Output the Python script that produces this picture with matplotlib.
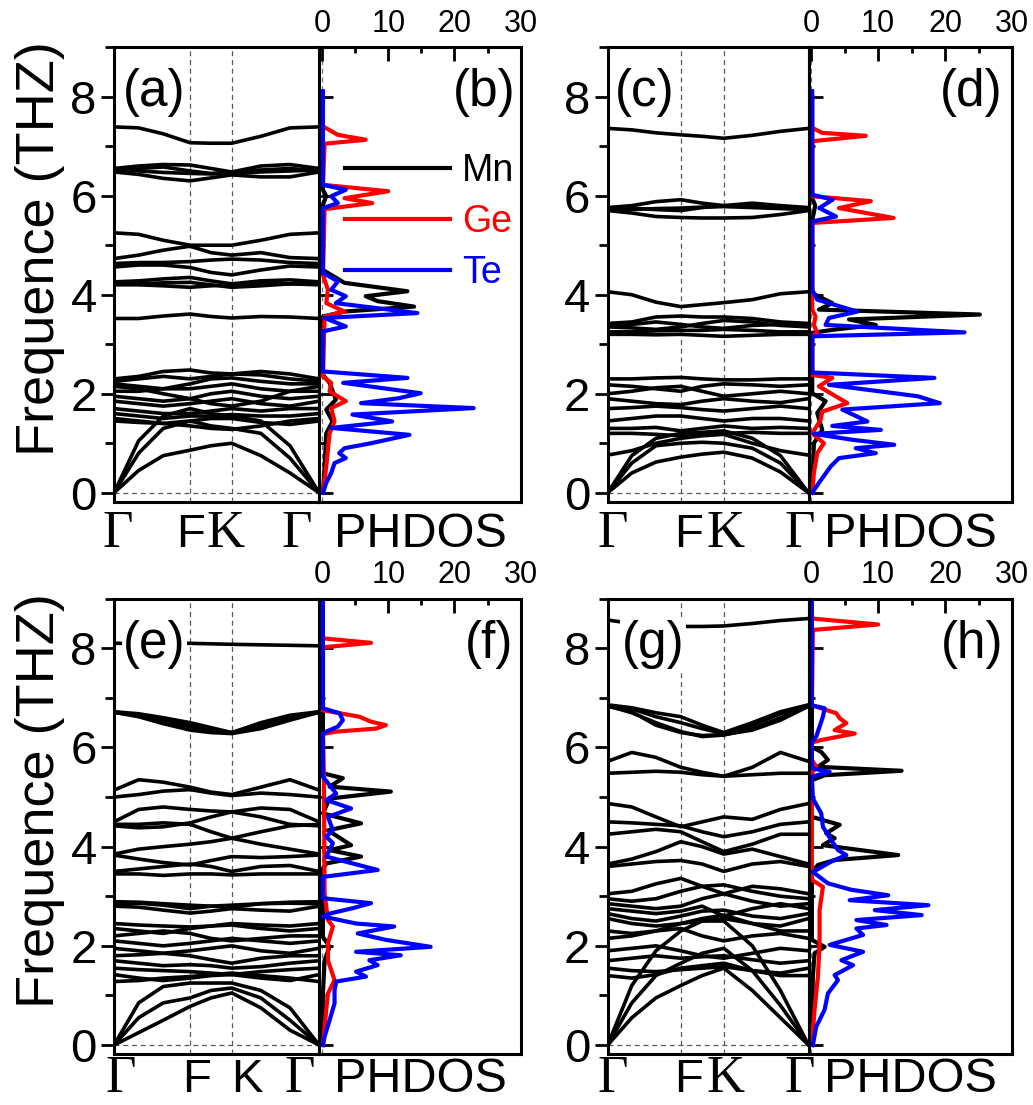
import matplotlib.pyplot as plt
from matplotlib.ticker import MultipleLocator

plt.rcParams['font.family'] = ['Liberation Sans', 'DejaVu Sans']

# --- k-path sample positions (fraction of path G-F-K-G) ---
KPTS_AE = [0, 0.12, 0.24, 0.371, 0.473, 0.574, 0.716, 0.858, 1.0]
KPTS_CG = [0, 0.12, 0.24, 0.364, 0.47, 0.578, 0.72, 0.86, 1.0]
KF_AE, KK_AE = 0.371, 0.574
KF_CG, KK_CG = 0.364, 0.578

# --- phonon bands (THz) read at the k points ---
BANDS_A = [
    [7.39, 7.37, 7.25, 7.07, 7.06, 7.06, 7.2, 7.37, 7.39],
    [6.55, 6.6, 6.63, 6.62, 6.55, 6.48, 6.6, 6.63, 6.55],
    [6.52, 6.5, 6.47, 6.45, 6.44, 6.45, 6.48, 6.5, 6.52],
    [6.48, 6.43, 6.35, 6.3, 6.36, 6.42, 6.38, 6.38, 6.48],
    [6.5, 6.55, 6.58, 6.5, 6.45, 6.48, 6.52, 6.55, 6.5],
    [5.25, 5.22, 5.1, 5.0, 5.0, 5.0, 5.1, 5.22, 5.25],
    [4.73, 4.8, 4.9, 4.98, 4.85, 4.8, 4.85, 4.75, 4.73],
    [4.63, 4.65, 4.65, 4.67, 4.7, 4.72, 4.7, 4.65, 4.63],
    [4.56, 4.6, 4.6, 4.55, 4.45, 4.4, 4.5, 4.58, 4.56],
    [4.26, 4.28, 4.32, 4.35, 4.28, 4.22, 4.28, 4.3, 4.26],
    [4.2, 4.2, 4.18, 4.15, 4.18, 4.2, 4.22, 4.22, 4.2],
    [4.22, 4.22, 4.24, 4.25, 4.2, 4.15, 4.18, 4.22, 4.22],
    [3.52, 3.52, 3.57, 3.61, 3.56, 3.53, 3.56, 3.55, 3.52],
    [2.3, 2.35, 2.45, 2.48, 2.42, 2.4, 2.45, 2.4, 2.3],
    [2.25, 2.3, 2.35, 2.3, 2.35, 2.4, 2.38, 2.3, 2.25],
    [2.2, 2.15, 2.1, 2.2, 2.3, 2.32, 2.25, 2.2, 2.2],
    [2.15, 2.1, 2.0, 1.9, 1.8, 1.75, 1.85, 2.05, 2.15],
    [2.05, 2.05, 2.1, 2.1, 2.15, 2.2, 2.1, 2.05, 2.05],
    [1.95, 1.9, 1.85, 1.9, 2.0, 2.05, 1.95, 1.9, 1.95],
    [1.85, 1.8, 1.75, 1.8, 1.85, 1.9, 1.8, 1.75, 1.85],
    [1.7, 1.65, 1.6, 1.6, 1.65, 1.7, 1.65, 1.7, 1.7],
    [1.6, 1.55, 1.5, 1.55, 1.55, 1.58, 1.55, 1.55, 1.6],
    [1.5, 1.45, 1.4, 1.35, 1.3, 1.28, 1.35, 1.45, 1.5],
    [1.45, 1.42, 1.4, 1.45, 1.5, 1.5, 1.42, 1.38, 1.45],
    [0, 0.45, 0.75, 0.86, 0.95, 1.0, 0.75, 0.4, 0],
    [0, 0.8, 1.3, 1.45, 1.35, 1.3, 1.2, 0.7, 0],
    [0, 1.05, 1.55, 1.7, 1.6, 1.55, 1.45, 0.95, 0],
]

BANDS_C = [
    [7.36, 7.33, 7.27, 7.23, 7.2, 7.16, 7.22, 7.3, 7.36],
    [5.76, 5.8, 5.88, 5.92, 5.85, 5.8, 5.85, 5.8, 5.76],
    [5.74, 5.75, 5.72, 5.7, 5.76, 5.8, 5.78, 5.76, 5.74],
    [5.7, 5.65, 5.58, 5.56, 5.55, 5.55, 5.56, 5.62, 5.7],
    [5.72, 5.72, 5.74, 5.75, 5.77, 5.78, 5.76, 5.74, 5.72],
    [4.06, 4.0, 3.85, 3.76, 3.8, 3.84, 3.9, 4.02, 4.06],
    [3.42, 3.45, 3.55, 3.57, 3.55, 3.55, 3.52, 3.45, 3.42],
    [3.38, 3.4, 3.45, 3.4, 3.35, 3.32, 3.38, 3.4, 3.38],
    [3.35, 3.33, 3.3, 3.35, 3.42, 3.48, 3.45, 3.38, 3.35],
    [3.25, 3.25, 3.27, 3.28, 3.28, 3.3, 3.28, 3.25, 3.25],
    [3.2, 3.2, 3.19, 3.2, 3.18, 3.16, 3.18, 3.2, 3.2],
    [2.3, 2.3, 2.32, 2.33, 2.3, 2.28, 2.28, 2.3, 2.3],
    [2.18, 2.15, 2.1, 2.05, 2.15, 2.2, 2.18, 2.15, 2.18],
    [2.0, 2.05, 2.12, 2.15, 2.05, 1.95, 2.0, 2.05, 2.0],
    [1.9, 1.85, 1.8, 1.78, 1.85, 1.9, 1.85, 1.82, 1.9],
    [1.7, 1.72, 1.75, 1.72, 1.68, 1.65, 1.7, 1.75, 1.7],
    [1.45, 1.5, 1.55, 1.55, 1.5, 1.45, 1.5, 1.5, 1.45],
    [1.3, 1.3, 1.32, 1.25, 1.3, 1.35, 1.3, 1.32, 1.3],
    [1.2, 1.2, 1.18, 1.15, 1.18, 1.2, 1.22, 1.2, 1.2],
    [0.76, 0.85, 1.0, 1.1, 1.15, 1.18, 1.0, 0.85, 0.76],
    [0, 0.4, 0.62, 0.72, 0.78, 0.82, 0.7, 0.42, 0],
    [0, 0.6, 0.95, 1.0, 1.02, 1.0, 0.9, 0.6, 0],
    [0, 0.75, 1.1, 1.2, 1.22, 1.25, 1.1, 0.75, 0],
]

BANDS_E = [
    [8.1, 8.1, 8.1, 8.1, 8.09, 8.08, 8.07, 8.06, 8.05],
    [6.72, 6.68, 6.6, 6.5, 6.4, 6.3, 6.5, 6.65, 6.72],
    [6.72, 6.65, 6.52, 6.42, 6.35, 6.3, 6.42, 6.6, 6.72],
    [6.71, 6.62, 6.48, 6.35, 6.3, 6.28, 6.38, 6.55, 6.71],
    [6.7, 6.66, 6.56, 6.45, 6.36, 6.3, 6.45, 6.62, 6.7],
    [5.14, 5.35, 5.3, 5.2, 5.1, 5.05, 5.2, 5.35, 5.14],
    [5.0, 5.05, 5.12, 5.15, 5.08, 5.03, 5.08, 5.05, 5.0],
    [4.5, 4.75, 4.8, 4.75, 4.72, 4.7, 4.78, 4.75, 4.5],
    [4.45, 4.45, 4.48, 4.45, 4.3, 4.17, 4.3, 4.42, 4.45],
    [4.42, 4.38, 4.4, 4.48, 4.6, 4.7, 4.6, 4.45, 4.42],
    [3.85, 3.95, 4.0, 4.05, 4.1, 4.17, 4.05, 3.95, 3.85],
    [3.83, 3.75, 3.68, 3.63, 3.72, 3.8, 3.78, 3.8, 3.83],
    [3.5, 3.55, 3.6, 3.65, 3.6, 3.5, 3.6, 3.62, 3.5],
    [3.45, 3.45, 3.42, 3.45, 3.45, 3.43, 3.45, 3.45, 3.45],
    [2.89, 2.88, 2.85, 2.82, 2.8, 2.78, 2.85, 2.88, 2.89],
    [2.8, 2.78, 2.72, 2.66, 2.7, 2.75, 2.72, 2.7, 2.8],
    [2.85, 2.86, 2.82, 2.75, 2.8, 2.82, 2.85, 2.86, 2.85],
    [2.45, 2.42, 2.4, 2.38, 2.4, 2.45, 2.42, 2.4, 2.45],
    [2.35, 2.3, 2.25, 2.35, 2.4, 2.42, 2.35, 2.3, 2.35],
    [2.2, 2.25, 2.3, 2.25, 2.15, 2.1, 2.15, 2.2, 2.2],
    [2.1, 2.05, 2.0, 2.05, 2.1, 2.15, 2.1, 2.05, 2.1],
    [1.95, 1.9, 1.85, 1.9, 1.95, 2.0, 1.9, 1.85, 1.95],
    [1.8, 1.82, 1.85, 1.8, 1.72, 1.65, 1.75, 1.8, 1.8],
    [1.7, 1.65, 1.6, 1.62, 1.6, 1.55, 1.58, 1.65, 1.7],
    [1.55, 1.52, 1.5, 1.48, 1.45, 1.42, 1.48, 1.52, 1.55],
    [1.42, 1.35, 1.3, 1.35, 1.4, 1.42, 1.35, 1.3, 1.42],
    [1.28, 1.3, 1.35, 1.38, 1.42, 1.45, 1.4, 1.35, 1.28],
    [0, 0.25, 0.5, 0.78, 0.95, 1.05, 0.75, 0.3, 0],
    [0, 0.55, 0.85, 0.95, 1.1, 1.15, 0.95, 0.5, 0],
    [0, 0.85, 1.18, 1.25, 1.25, 1.25, 1.1, 0.75, 0],
]

BANDS_G = [
    [8.57, 8.5, 8.46, 8.44, 8.44, 8.45, 8.5, 8.56, 8.6],
    [6.86, 6.8, 6.7, 6.62, 6.45, 6.3, 6.5, 6.72, 6.86],
    [6.85, 6.78, 6.62, 6.5, 6.38, 6.28, 6.45, 6.68, 6.85],
    [6.84, 6.7, 6.5, 6.32, 6.22, 6.25, 6.38, 6.6, 6.84],
    [6.83, 6.72, 6.45, 6.3, 6.24, 6.26, 6.35, 6.55, 6.83],
    [5.72, 5.9, 5.8, 5.6, 5.5, 5.42, 5.6, 5.9, 5.72],
    [5.48, 5.5, 5.52, 5.5, 5.45, 5.42, 5.45, 5.48, 5.48],
    [4.87, 4.8, 4.6, 4.4, 4.5, 4.6, 4.55, 4.75, 4.87],
    [4.5, 4.48, 4.45, 4.42, 4.3, 4.2, 4.3, 4.45, 4.5],
    [4.25, 4.3, 4.35, 4.3, 4.1, 3.9, 4.05, 4.25, 4.25],
    [3.65, 3.75, 3.9, 4.1, 4.0, 3.85, 3.95, 3.8, 3.65],
    [3.6, 3.65, 3.7, 3.72, 3.65, 3.5, 3.65, 3.7, 3.6],
    [3.05, 3.1, 3.25, 3.36, 3.2, 3.05, 3.2, 3.15, 3.05],
    [2.95, 2.9, 2.95, 3.1, 3.2, 3.23, 3.1, 3.0, 2.95],
    [2.85, 2.8, 2.75, 2.8, 2.95, 3.05, 2.9, 2.8, 2.85],
    [2.75, 2.7, 2.65, 2.7, 2.8, 2.6, 2.75, 2.85, 2.75],
    [2.65, 2.55, 2.5, 2.6, 2.7, 2.72, 2.6, 2.55, 2.65],
    [2.55, 2.45, 2.4, 2.45, 2.5, 2.55, 2.45, 2.4, 2.55],
    [2.3, 2.25, 2.3, 2.45, 2.55, 2.62, 2.45, 2.3, 2.3],
    [2.15, 2.2, 2.3, 2.35, 2.2, 2.1, 2.2, 2.25, 2.15],
    [1.9, 1.95, 2.0, 1.9, 1.8, 1.75, 1.85, 1.95, 1.9],
    [1.7, 1.75, 1.8, 1.75, 1.78, 1.8, 1.72, 1.65, 1.7],
    [1.55, 1.5, 1.48, 1.52, 1.55, 1.58, 1.5, 1.45, 1.55],
    [1.4, 1.35, 1.42, 1.55, 1.6, 1.65, 1.5, 1.4, 1.4],
    [0, 0.55, 0.95, 1.2, 1.4, 1.55, 1.1, 0.55, 0],
    [0, 0.85, 1.4, 1.65, 1.85, 1.95, 1.5, 0.8, 0],
    [0, 1.2, 1.9, 2.3, 2.5, 2.5, 2.0, 1.1, 0],
]

# --- projected phonon DOS: frequency (THz) / DOS value ---
MN_B_F = [0.0, 0.53, 1.2, 1.44, 1.68, 1.88, 2.22, 2.38, 3.56, 3.66, 3.76, 3.87, 3.97, 4.07, 4.24, 4.4, 4.5, 5.82, 5.99, 6.12, 8.0]
MN_B_D = [0.15, 0.4, 0.65, 1.6, 0.65, 2.1, 1.15, 0.15, 0.15, 3.4, 13.9, 8.4, 6.6, 12.9, 3.4, 1.4, 0.15, 0.15, 0.65, 0.15, 0.15]
GE_B_F = [0.0, 0.53, 0.87, 1.2, 1.44, 1.71, 1.85, 2.05, 2.22, 2.35, 3.56, 3.66, 3.83, 4.1, 4.4, 5.73, 5.85, 5.95, 6.09, 6.22, 7.05, 7.13, 7.23, 7.4]
GE_B_D = [0.15, 0.65, 0.9, 1.15, 1.9, 1.4, 3.6, 1.15, 1.4, 0.15, 0.4, 3.4, 0.65, 0.9, 0.15, 0.4, 7.6, 3.4, 10, 0.15, 0.4, 6.6, 2.4, 0.15]
TE_B_F = [0.0, 0.2, 0.4, 0.6, 0.7, 0.8, 0.9, 1.0, 1.17, 1.31, 1.44, 1.58, 1.71, 1.81, 1.91, 2.01, 2.22, 2.32, 2.45, 3.26, 3.36, 3.53, 3.63, 3.83, 3.97, 4.1, 4.27, 4.44, 5.75, 5.85, 5.99, 6.12, 6.22, 8.11]
TE_B_D = [0.15, 0.65, 1.4, 1.9, 3.6, 2.6, 3.4, 7.4, 13.2, 1.4, 10.6, 4.6, 22.9, 5.9, 11.6, 14.9, 3.2, 12.9, 0.15, 0.15, 3.6, 0.4, 14.4, 2.1, 3.6, 1.4, 2.4, 0.15, 0.15, 2.4, 1.4, 3.6, 0.15, 0.15]

MN_D_F = [0.0, 1.0, 1.27, 1.61, 1.85, 2.01, 3.23, 3.29, 3.39, 3.5, 3.6, 3.7, 3.83, 4.03, 5.5, 5.8, 5.95, 8.0]
MN_D_D = [0.15, 0.4, 1.65, 0.9, 2.15, 0.15, 0.15, 3.15, 9.65, 5.65, 25.2, 1.15, 3.15, 0.15, 0.15, 0.6, 0.15, 0.15]
GE_D_F = [0.0, 0.4, 0.8, 1.0, 1.2, 1.47, 1.64, 1.81, 2.15, 2.32, 2.38, 3.16, 3.23, 3.39, 3.56, 3.7, 5.45, 5.55, 5.75, 5.89, 5.99, 7.1, 7.21, 7.27, 7.37]
GE_D_D = [0.15, 0.4, 0.9, 1.9, 0.15, 1.4, 1.65, 5.4, 1.15, 3.15, 0.15, 0.15, 0.9, 0.4, 0.65, 0.15, 0.15, 12.3, 4.15, 8.9, 0.15, 0.15, 8.15, 1.65, 0.15]
TE_D_F = [0.0, 0.2, 0.53, 0.7, 0.8, 0.9, 0.97, 1.07, 1.19, 1.27, 1.35, 1.44, 1.68, 1.81, 1.95, 2.18, 2.32, 2.43, 3.16, 3.24, 3.39, 3.53, 3.66, 3.9, 4.1, 5.48, 5.58, 5.75, 5.92, 6.02, 8.11]
TE_D_D = [0.15, 1.15, 2.9, 4.15, 9.65, 6.65, 12.4, 6.15, 0.4, 10.4, 3.15, 8.4, 4.65, 19.2, 15.9, 2.65, 18.4, 0.15, 0.15, 22.9, 2.15, 2.65, 6.9, 0.9, 0.15, 0.15, 3.7, 1.2, 3.2, 0.15, 0.15]

MN_F_F = [0.0, 1.04, 1.71, 1.98, 2.18, 3.56, 3.66, 3.8, 3.93, 4.03, 4.33, 4.47, 4.67, 4.97, 5.11, 5.21, 5.38, 5.48, 8.0]
MN_F_D = [0.15, 0.15, 0.4, 1.15, 0.15, 0.15, 0.65, 5.9, 1.15, 4.4, 0.9, 5.9, 0.15, 1.15, 10.4, 1.15, 3.15, 0.15, 0.15]
GE_F_F = [0.0, 0.71, 1.04, 1.31, 1.71, 2.05, 2.39, 2.52, 3.06, 5.41, 6.27, 6.32, 6.38, 6.45, 6.52, 6.62, 6.75, 8.02, 8.11, 8.2]
GE_F_D = [0.15, 0.65, 0.9, 1.9, 0.9, 0.9, 1.65, 0.9, 0.4, 0.3, 0.15, 2.15, 8.15, 9.65, 7.4, 5.65, 0.15, 0.15, 7.4, 0.15]
TE_F_F = [0.0, 0.17, 0.5, 0.84, 1.11, 1.28, 1.38, 1.48, 1.61, 1.71, 1.81, 1.88, 1.98, 2.12, 2.25, 2.39, 2.45, 2.59, 2.65, 2.76, 2.86, 2.96, 3.39, 3.53, 3.8, 4.07, 4.2, 4.33, 4.6, 4.77, 4.94, 5.07, 5.41, 6.27, 6.32, 6.42, 6.55, 6.69, 6.79, 9.0]
TE_F_D = [0.15, 0.4, 1.15, 1.9, 1.9, 2.15, 6.65, 5.15, 8.4, 7.15, 11.9, 5.15, 16.4, 9.65, 5.4, 10.9, 5.15, 0.15, 1.15, 4.65, 7.4, 0.15, 0.15, 8.4, 0.65, 1.65, 0.65, 1.65, 0.9, 4.4, 0.65, 2.15, 0.15, 0.15, 0.65, 2.4, 3.15, 2.65, 0.15, 0.15]

MN_H_F = [0.0, 1.38, 1.85, 1.98, 2.12, 3.49, 3.63, 3.73, 3.83, 4.03, 4.17, 4.27, 4.44, 4.6, 5.34, 5.44, 5.53, 5.61, 5.75, 5.91, 6.01, 8.5]
MN_H_D = [0.1, 0.25, 0.5, 2.0, 0.1, 0.1, 1.0, 3.5, 13.0, 1.75, 3.5, 2.25, 4.25, 0.1, 0.1, 2.0, 13.5, 1.0, 2.5, 1.5, 0.1, 0.1]
GE_H_F = [0.0, 0.71, 1.38, 2.05, 2.72, 3.19, 3.33, 5.48, 5.61, 5.75, 6.1, 6.15, 6.28, 6.35, 6.49, 6.59, 6.69, 6.85, 8.37, 8.48, 8.6]
GE_H_D = [0.1, 0.5, 1.0, 1.25, 1.25, 1.75, 0.1, 0.1, 0.75, 0.1, 0.1, 1.5, 6.5, 3.5, 5.25, 4.25, 3.75, 0.1, 0.25, 10, 0.1]
TE_H_F = [0.0, 0.37, 0.71, 1.04, 1.31, 1.41, 1.61, 1.71, 1.88, 2.02, 2.22, 2.35, 2.42, 2.52, 2.62, 2.72, 2.82, 2.92, 3.02, 3.13, 3.26, 3.49, 3.7, 3.83, 3.93, 4.13, 4.4, 4.67, 4.97, 5.41, 5.51, 5.58, 6.1, 6.22, 6.42, 6.62, 6.79, 6.85, 9.0]
TE_H_D = [0.25, 0.75, 2.0, 2.5, 4.0, 3.5, 6.25, 4.5, 7.75, 2.75, 7.75, 6.75, 11.25, 6.75, 16.5, 9.5, 17.5, 5.75, 11.5, 6.0, 2.5, 0.25, 3.0, 5.25, 4.0, 3.0, 1.75, 1.5, 0.25, 0.1, 2.75, 0.1, 0.1, 0.75, 1.25, 1.75, 2.0, 0.1, 0.1]

SPECIES = ["Mn", "Ge", "Te"]
COLORS = ["black", "red", "blue"]
YLIM = (-0.18, 9.0)

# axes placement in figure fractions
ROWS = [(0.546, 0.4113), (0.0462, 0.412)]
ROW_LABEL_Y = [-0.10, -0.084]
BAND_COLS = [(0.1104, 0.1985), (0.5883, 0.1944)]
DOS_COLS = [(0.3091, 0.195), (0.7827, 0.197)]

SERIF = 'Liberation Serif'
SANS = 'Liberation Sans'


def style_spines(ax):
    for s in ax.spines.values():
        s.set_linewidth(2.2)


def draw_bands(ax, kpts, bands, kf, kk, letter, letter_x, lbl_x, k_serif, ylabel, lbl_y):
    for b in bands:
        ax.plot(kpts, b, color='black', lw=2.6, solid_joinstyle='round',
                solid_capstyle='round')
    for kx in (kf, kk):
        ax.axvline(kx, ls='--', color='0.35', lw=0.9, dashes=(4, 3), zorder=0)
    ax.axhline(0, ls='--', color='0.35', lw=0.9, dashes=(4, 3), zorder=0)
    ax.set_xlim(0, 1)
    ax.set_ylim(*YLIM)
    ax.set_xticks([])
    ax.yaxis.set_major_locator(MultipleLocator(2))
    ax.yaxis.set_minor_locator(MultipleLocator(1))
    ax.tick_params(axis='y', which='major', direction='out', length=9.5,
                   width=2, labelsize=34, pad=3)
    ax.tick_params(axis='y', which='minor', direction='out', length=6.5, width=2)
    style_spines(ax)
    ax.text(letter_x, 0.9, letter, transform=ax.transAxes, fontsize=37,
            ha='left', va='center', zorder=5,
            bbox=dict(facecolor='white', edgecolor='none', pad=1))
    names = ['Γ', 'F', 'K', 'Γ']
    fams = [SERIF, SANS, SERIF if k_serif else SANS, SERIF]
    sizes = [38, 34, 38 if k_serif else 34, 38]
    for name, fam, size, x in zip(names, fams, sizes, lbl_x):
        ax.text(x, lbl_y, name, transform=ax.transAxes, family=fam,
                fontsize=size, ha='center', va='baseline')
    if ylabel:
        ax.set_ylabel('Frequence (THZ)', fontsize=39)
        ax.yaxis.set_label_coords(-0.241, 0.557)


def draw_dos(ax, curves, letter, letter_x, lbl_y, legend=False):
    handles = []
    for (f, d), name, c in zip(curves, SPECIES, COLORS):
        h, = ax.plot(d, f, color=c, lw=3, label=name, solid_joinstyle='round')
        handles.append(h)
    ax.axvline(0, ls='--', color='0.45', lw=0.9, dashes=(4, 3), zorder=0)
    ax.set_xlim(-0.4, 30)
    ax.set_ylim(*YLIM)
    ax.xaxis.tick_top()
    ax.xaxis.set_major_locator(MultipleLocator(10))
    ax.xaxis.set_minor_locator(MultipleLocator(5))
    ax.yaxis.set_major_locator(MultipleLocator(2))
    ax.yaxis.set_minor_locator(MultipleLocator(1))
    ax.tick_params(axis='x', which='major', direction='in', length=10, width=2,
                   labelsize=22, pad=6, top=True, bottom=False)
    ax.tick_params(axis='x', which='minor', direction='in', length=4, width=2,
                   top=True, bottom=False)
    ax.tick_params(axis='y', which='both', direction='in', width=2,
                   labelleft=False, left=True, right=False)
    ax.tick_params(axis='y', which='major', length=10)
    ax.tick_params(axis='y', which='minor', length=4)
    style_spines(ax)
    ax.set_xlabel('PHDOS', fontsize=35)
    ax.xaxis.set_label_position('bottom')
    ax.xaxis.set_label_coords(0.5, lbl_y)
    ax.xaxis.label.set_va('baseline')
    ax.text(letter_x, 0.9, letter, transform=ax.transAxes, fontsize=37,
            ha='right', va='center')
    if legend:
        ax.legend(handles=handles, loc='upper left', bbox_to_anchor=(0.128, 0.767),
                  frameon=False, fontsize=27, handlelength=2.8,
                  handletextpad=0.32, labelspacing=0.4, borderpad=0,
                  borderaxespad=0, labelcolor='linecolor')


fig = plt.figure(figsize=(10.33, 11.05), dpi=100)

panels = [
    (0, 0, KPTS_AE, BANDS_A, KF_AE, KK_AE, '(a)', 0.044, [0.017, 0.371, 0.546, 0.89], True, True,
     [(MN_B_F, MN_B_D), (GE_B_F, GE_B_D), (TE_B_F, TE_B_D)], '(b)', 0.975, True),
    (0, 1, KPTS_CG, BANDS_C, KF_CG, KK_CG, '(c)', 0.036, [0.024, 0.405, 0.585, 0.954], True, False,
     [(MN_D_F, MN_D_D), (GE_D_F, GE_D_D), (TE_D_F, TE_D_D)], '(d)', 0.952, False),
    (1, 0, KPTS_AE, BANDS_E, KF_AE, KK_AE, '(e)', 0.044, [0.034, 0.40, 0.65, 0.907], False, True,
     [(MN_F_F, MN_F_D), (GE_F_F, GE_F_D), (TE_F_F, TE_F_D)], '(f)', 0.965, False),
    (1, 1, KPTS_CG, BANDS_G, KF_CG, KK_CG, '(g)', 0.07, [0.024, 0.405, 0.585, 0.954], True, False,
     [(MN_H_F, MN_H_D), (GE_H_F, GE_H_D), (TE_H_F, TE_H_D)], '(h)', 0.958, False),
]

for (r, c, kpts, bands, kf, kk, lb, lbx, lblx, kser, ylab,
     curves, ld, ldx, leg) in panels:
    y0, h = ROWS[r]
    bx, bw = BAND_COLS[c]
    dx, dw = DOS_COLS[c]
    axb = fig.add_axes([bx, y0, bw, h])
    axd = fig.add_axes([dx, y0, dw, h])
    draw_bands(axb, kpts, bands, kf, kk, lb, lbx, lblx, kser, ylab, ROW_LABEL_Y[r])
    draw_dos(axd, curves, ld, ldx, ROW_LABEL_Y[r], legend=leg)

fig.savefig('out.png', dpi=100)
